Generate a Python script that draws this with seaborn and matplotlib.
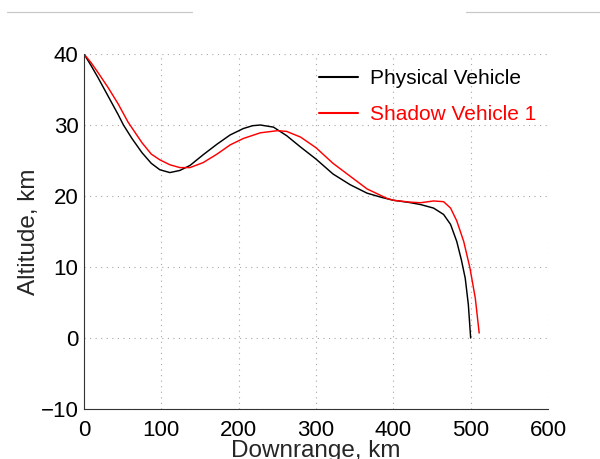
import matplotlib
matplotlib.use("Agg")
import matplotlib.pyplot as plt
from matplotlib.lines import Line2D
import seaborn as sns
import pandas as pd

# ---- data ----
phys_x = [0, 9, 18, 31, 44, 51, 62, 75, 87, 98, 111, 124, 137, 154, 172, 189,
          206, 218, 228, 245, 262, 280, 300, 322, 344, 366, 385, 400, 420, 435,
          452, 465, 474, 482, 488, 493, 497, 500]
phys_y = [40.0, 38.4, 36.7, 34.1, 31.5, 30.0, 28.1, 26.1, 24.6, 23.7, 23.3, 23.6,
          24.3, 25.8, 27.3, 28.6, 29.5, 29.9, 30.0, 29.7, 28.5, 26.9, 25.2, 23.1,
          21.6, 20.4, 19.8, 19.4, 19.1, 18.8, 18.3, 17.4, 16.0, 13.6, 11.0, 8.4,
          4.7, 0.0]

shadow_x = [0, 9, 18, 31, 44, 57, 75, 87, 98, 111, 124, 137, 154, 172, 189, 206,
            228, 250, 262, 280, 300, 322, 344, 366, 391, 400, 420, 435, 452, 465,
            474, 482, 491, 499, 506, 511]
shadow_y = [40.0, 38.8, 37.4, 35.3, 33.0, 30.4, 27.5, 25.9, 25.1, 24.4, 24.0, 24.0,
            24.7, 25.9, 27.2, 28.1, 28.9, 29.2, 29.1, 28.3, 26.8, 24.6, 22.8, 21.0,
            19.7, 19.4, 19.15, 19.05, 19.3, 19.2, 18.3, 16.5, 13.6, 9.9, 5.6, 0.7]

series_names = ["Physical Vehicle", "Shadow Vehicle 1"]
series_colors = ["black", "red"]
x_ticks = [0, 100, 200, 300, 400, 500, 600]
y_ticks = [-10, 0, 10, 20, 30, 40]
x_label = "Downrange, km"
y_label = "Altitude, km"

df = pd.concat([
    pd.DataFrame({"x": phys_x, "y": phys_y, "series": series_names[0]}),
    pd.DataFrame({"x": shadow_x, "y": shadow_y, "series": series_names[1]}),
], ignore_index=True)

sns.set_style("white")
plt.rcParams["font.family"] = ["Liberation Sans", "DejaVu Sans"]

fig = plt.figure(figsize=(6.0, 4.59), dpi=100)
ax = fig.add_axes([84 / 600, 1 - 409 / 459, 464 / 600, 355 / 459])

sns.lineplot(data=df, x="x", y="y", hue="series", palette=dict(zip(series_names, series_colors)),
             sort=False, estimator=None, units="series", linewidth=1.05, ax=ax, legend=False)
for ln in ax.lines:
    ln.set_solid_joinstyle("round")

ax.set_xlim(0, 600)
ax.set_ylim(-10, 40)
ax.set_xticks(x_ticks)
ax.set_yticks(y_ticks)
ax.grid(True, color="#a8a8a8", linestyle=(0, (1, 4)), linewidth=0.8)
for s in ["top", "right"]:
    ax.spines[s].set_visible(False)
for s in ["left", "bottom"]:
    ax.spines[s].set_color("#333333")
    ax.spines[s].set_linewidth(0.8)

ax.tick_params(axis="both", direction="in", length=4, width=0.7, colors="#333333",
               labelsize=16, labelcolor="black")
ax.tick_params(axis="x", pad=8)
ax.tick_params(axis="y", pad=4)

ax.set_xlabel(x_label, fontsize=17.5)
ax.set_ylabel(y_label, fontsize=17.5)
ax.xaxis.set_label_coords(0.5, -0.087)
ax.yaxis.set_label_coords(-0.095, 0.5)

handles = [Line2D([], [], color=c, lw=1.5) for c in series_colors]
ax.legend(handles, series_names, loc="upper left", frameon=False,
          bbox_to_anchor=(319 / 600, 1 - 69.5 / 459), bbox_transform=fig.transFigure,
          borderaxespad=0, borderpad=0, fontsize=15, handlelength=1.87,
          handletextpad=0.58, labelspacing=0.8, labelcolor=series_colors)

# thin gray separator lines at the top of the image
fig.add_artist(Line2D([7 / 600, 192 / 600], [1 - 12.3 / 459] * 2, color="#c8c8c8", lw=0.9))
fig.add_artist(Line2D([466 / 600, 1.0], [1 - 12.3 / 459] * 2, color="#c8c8c8", lw=0.9))

fig.savefig("out.png", dpi=100)
